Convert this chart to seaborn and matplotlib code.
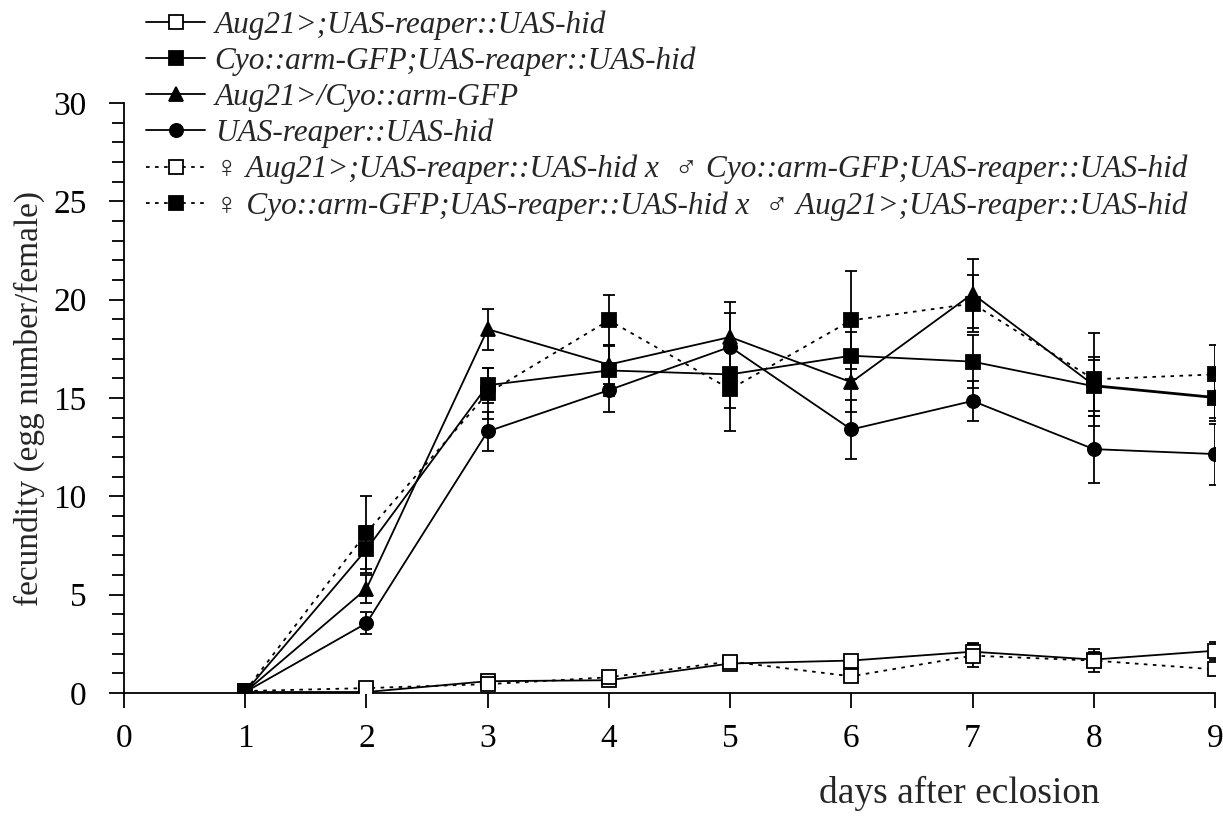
import matplotlib
matplotlib.use("Agg")
import matplotlib.pyplot as plt
from matplotlib.ticker import MultipleLocator
import seaborn as sns

# ---------------------------------------------------------------
#        FECUNDITY OVER DAYS AFTER ECLOSION (6 GENOTYPES)
# ---------------------------------------------------------------

days = [1, 2, 3, 4, 5, 6, 7, 8, 9]

labels = [
    "Aug21>;UAS-reaper::UAS-hid",
    "Cyo::arm-GFP;UAS-reaper::UAS-hid",
    "Aug21>/Cyo::arm-GFP",
    "UAS-reaper::UAS-hid",
    "\u2640 Aug21>;UAS-reaper::UAS-hid x  \u2642 Cyo::arm-GFP;UAS-reaper::UAS-hid",
    "\u2640 Cyo::arm-GFP;UAS-reaper::UAS-hid x  \u2642 Aug21>;UAS-reaper::UAS-hid",
]

# mean egg number / female
aug_rh = [0.05, 0.05, 0.6, 0.65, 1.5, 1.65, 2.1, 1.7, 2.15]
cyo_rh = [0.05, 7.3, 15.65, 16.4, 16.2, 17.15, 16.85, 15.6, 15.0]
aug_cyo = [0.05, 5.3, 18.5, 16.7, 18.1, 15.8, 20.3, 15.65, 15.05]
rh = [0.05, 3.55, 13.3, 15.4, 17.6, 13.4, 14.85, 12.4, 12.15]
cross_aug_f = [0.1, 0.25, 0.45, 0.8, 1.6, 0.85, 1.9, 1.65, 1.2]
cross_cyo_f = [0.1, 8.15, 15.25, 18.95, 15.45, 18.95, 19.8, 15.95, 16.2]

# error bars (+/-)
aug_rh_err = [0.05, 0.1, 0.15, 0.1, 0.35, 0.3, 0.45, 0.4, 0.45]
cyo_rh_err = [0.05, 1.2, 0.9, 1.3, 1.7, 1.2, 1.35, 1.5, 1.0]
aug_cyo_err = [0.05, 0.7, 1.05, 1.0, 1.8, 1.5, 1.75, 1.3, 1.2]
rh_err = [0.05, 0.55, 1.0, 1.1, 1.7, 1.5, 1.0, 1.7, 1.55]
cross_aug_f_err = [0.05, 0.1, 0.15, 0.1, 0.2, 0.2, 0.6, 0.6, 0.2]
cross_cyo_f_err = [0.05, 1.85, 1.3, 1.3, 2.15, 2.5, 1.45, 2.35, 1.5]

series = [aug_rh, cyo_rh, aug_cyo, rh, cross_aug_f, cross_cyo_f]
errors = [aug_rh_err, cyo_rh_err, aug_cyo_err, rh_err, cross_aug_f_err, cross_cyo_f_err]

markers = ["s", "s", "^", "o", "s", "s"]
faces = ["white", "black", "black", "black", "white", "black"]
dotted = (0, (2, 3))
styles = ["-", "-", "-", "-", dotted, dotted]

sns.set_style("ticks")
plt.rcParams["font.family"] = ["Liberation Serif", "DejaVu Sans"]

fig = plt.figure(figsize=(12.23, 8.16), dpi=100)
ax = fig.add_axes([124 / 1223, 1 - 693 / 816, (1215 - 124) / 1223, (693 - 103) / 816])

for y, e, m, fc, ls, lab in zip(series, errors, markers, faces, styles, labels):
    ax.errorbar(days, y, yerr=e, fmt="none", ecolor="black",
                elinewidth=1.3, capsize=4.5, capthick=1.3, zorder=2)
    sns.lineplot(x=days, y=y, ax=ax, color="black", linewidth=1.3,
                 linestyle=ls, marker=m, markersize=9.5 if m != "^" else 10.5,
                 markerfacecolor=fc, markeredgecolor="black",
                 markeredgewidth=1.3, label=lab, zorder=3)

ax.set_xlim(0, 9)
ax.set_ylim(0, 30)
ax.xaxis.set_major_locator(MultipleLocator(1))
ax.yaxis.set_major_locator(MultipleLocator(5))
ax.yaxis.set_minor_locator(MultipleLocator(1))
ax.tick_params(axis="both", which="major", labelsize=24, length=11,
               width=1.3, color="black", labelcolor="black")
ax.tick_params(axis="y", which="minor", length=9, width=1.3, color="black")
ax.tick_params(axis="x", pad=11)
ax.tick_params(axis="y", pad=16)

for side in ["top", "right"]:
    ax.spines[side].set_visible(False)
for side in ["left", "bottom"]:
    ax.spines[side].set_linewidth(1.3)
    ax.spines[side].set_color("black")

ax.set_xlabel("days after eclosion", fontsize=27)
ax.xaxis.set_label_coords(0.766, -0.14)
ax.set_ylabel("fecundity (egg number/female)", fontsize=24, labelpad=6)

handles, labs = ax.get_legend_handles_labels()
ax.legend_.remove()
fig.legend(handles, labs, loc="upper left",
           bbox_to_anchor=(146 / 1223, 1 - 10 / 816),
           frameon=False, borderpad=0, borderaxespad=0,
           handlelength=1.9, handletextpad=0.3, labelspacing=0.22,
           prop={"family": ["Liberation Serif", "DejaVu Sans"],
                 "style": "italic", "size": 22.5})

fig.savefig("out.png", dpi=100)
